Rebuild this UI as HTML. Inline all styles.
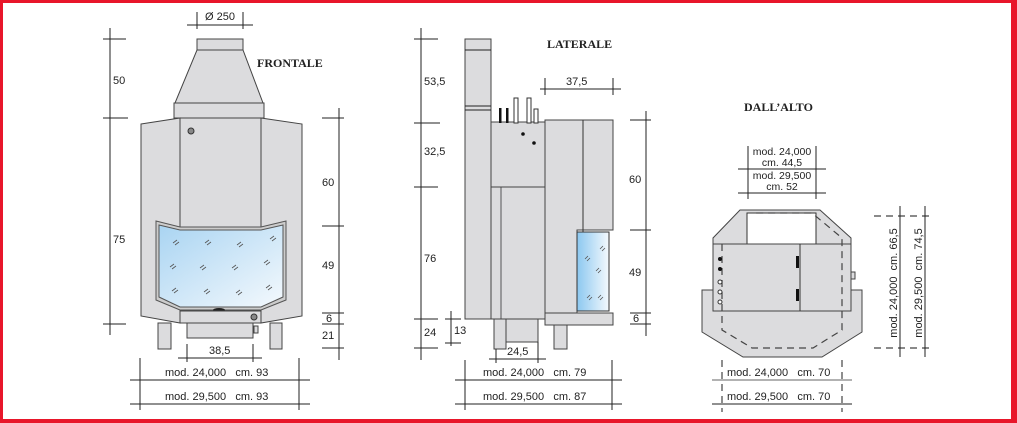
<!DOCTYPE html>
<html><head><meta charset="utf-8"><style>
html,body{margin:0;padding:0;background:#fff}
svg{display:block}
text{font-family:"Liberation Sans",sans-serif;font-size:11px;fill:#222}
.t{font-family:"Liberation Serif",serif;font-weight:bold;font-size:12px;fill:#222}
.g{fill:#dcdcde;stroke:#444;stroke-width:1}
.l{stroke:#222;stroke-width:1;fill:none}
.d{stroke:#444;stroke-width:1.2;fill:none;stroke-dasharray:7 5}
</style></head><body>
<svg width="1017" height="423" viewBox="0 0 1017 423" xmlns="http://www.w3.org/2000/svg">
<defs>
<linearGradient id="gl" x1="0" y1="0" x2="1" y2="1"><stop offset="0" stop-color="#a9d4f2"/><stop offset="1" stop-color="#f4f9fd"/></linearGradient>
<linearGradient id="gl2" x1="0" y1="0" x2="1" y2="0"><stop offset="0" stop-color="#8cc8f0"/><stop offset="1" stop-color="#f4f9fd"/></linearGradient>
</defs>
<rect x="0" y="0" width="1017" height="423" fill="#fff"/>
<rect x="0" y="0" width="1017" height="3" fill="#e8162a"/>
<rect x="0" y="419" width="1017" height="4" fill="#e8162a"/>
<rect x="0" y="0" width="3" height="423" fill="#e8162a"/>
<rect x="1011" y="0" width="6" height="423" fill="#e8162a"/>

<!-- FRONTALE -->
<text class="t" x="257" y="67">FRONTALE</text>
<line class="l" x1="187" y1="25" x2="253" y2="25"/><line class="l" x1="197" y1="12" x2="197" y2="29"/><line class="l" x1="243" y1="12" x2="243" y2="29"/>
<text x="205" y="20">Ø 250</text>
<rect class="g" x="197" y="39" width="46" height="11"/>
<polygon class="g" points="197,50 243,50 263,103 175,103"/>
<rect class="g" x="174" y="103" width="90" height="15"/>
<polygon class="g" points="141,124 180,118 180,323 141,316"/>
<polygon class="g" points="261,118 302,124 302,316 261,323"/>
<rect class="g" x="180" y="118" width="81" height="205"/>
<polygon fill="#ccc" stroke="#555" points="156,221 180,227 261,227 286,221 286,300 261,310 180,310 156,300"/>
<polygon fill="url(#gl)" stroke="#555" points="159,225 180,230 261,230 283,225 283,297 261,307 180,307 159,297"/>
<g stroke="#555" stroke-width="0.8">
<path d="M173,243l4,-3M175,245l4,-3M205,243l4,-3M207,245l4,-3M237,245l4,-3M239,247l4,-3M270,239l4,-3M272,241l4,-3"/>
<path d="M170,267l4,-3M172,269l4,-3M200,268l4,-3M202,270l4,-3M232,268l4,-3M234,270l4,-3M264,263l4,-3M266,265l4,-3"/>
<path d="M172,291l4,-3M174,293l4,-3M204,292l4,-3M206,294l4,-3M236,293l4,-3M238,295l4,-3M266,288l4,-3M268,290l4,-3"/>
</g>
<ellipse cx="219" cy="310" rx="6" ry="2" fill="#222"/>
<rect class="g" x="180" y="311" width="81" height="12"/>
<circle cx="254" cy="317" r="3" fill="#888" stroke="#333"/>
<circle cx="191" cy="131" r="3" fill="#888" stroke="#333"/>
<rect class="g" x="187" y="323" width="66" height="15"/>
<rect class="g" x="254" y="326" width="4" height="7"/>
<rect class="g" x="158" y="323" width="13" height="26"/>
<rect class="g" x="270" y="323" width="12" height="26"/>
<line class="l" x1="110" y1="28" x2="110" y2="335"/>
<line class="l" x1="103" y1="39" x2="126" y2="39"/><line class="l" x1="103" y1="118" x2="128" y2="118"/><line class="l" x1="103" y1="324" x2="126" y2="324"/>
<text x="113" y="84">50</text><text x="113" y="243">75</text>
<line class="l" x1="339" y1="108" x2="339" y2="360"/>
<g class="l"><line x1="322" y1="118" x2="344" y2="118"/><line x1="322" y1="226" x2="344" y2="226"/><line x1="322" y1="313" x2="344" y2="313"/><line x1="322" y1="324" x2="344" y2="324"/><line x1="322" y1="348" x2="344" y2="348"/></g>
<text x="322" y="186">60</text><text x="322" y="269">49</text><text x="326" y="322">6</text><text x="322" y="339">21</text>
<line class="l" x1="178" y1="358" x2="262" y2="358"/><line class="l" x1="187" y1="344" x2="187" y2="362"/><line class="l" x1="253" y1="344" x2="253" y2="362"/>
<text x="209" y="354">38,5</text>
<line class="l" x1="140" y1="358" x2="140" y2="410"/><line class="l" x1="299" y1="358" x2="299" y2="410"/>
<line class="l" x1="130" y1="380" x2="310" y2="380"/><line class="l" x1="130" y1="404" x2="310" y2="404"/>
<text x="165" y="376">mod. 24,000&#160;&#160;&#160;cm. 93</text>
<text x="165" y="400">mod. 29,500&#160;&#160;&#160;cm. 93</text>

<!-- LATERALE -->
<text class="t" x="547" y="48">LATERALE</text>
<line class="l" x1="421" y1="28" x2="421" y2="360"/>
<g class="l"><line x1="414" y1="39" x2="438" y2="39"/><line x1="414" y1="123" x2="440" y2="123"/><line x1="414" y1="187" x2="438" y2="187"/><line x1="414" y1="319" x2="438" y2="319"/><line x1="414" y1="348" x2="438" y2="348"/>
<line x1="451" y1="311" x2="451" y2="346"/><line x1="445" y1="319" x2="461" y2="319"/><line x1="445" y1="343" x2="461" y2="343"/></g>
<text x="424" y="85">53,5</text><text x="424" y="155">32,5</text><text x="424" y="262">76</text><text x="424" y="336">24</text><text x="454" y="334">13</text>
<rect class="g" x="465" y="39" width="26" height="280"/>
<line class="l" x1="465" y1="50" x2="491" y2="50"/><line class="l" x1="465" y1="106" x2="491" y2="106"/><line class="l" x1="465" y1="110" x2="491" y2="110"/>
<rect class="g" x="491" y="187" width="55" height="132"/>
<line x1="501" y1="187" x2="501" y2="319" stroke="#555"/>
<rect class="g" x="491" y="122" width="55" height="65"/>
<rect x="499" y="108" width="2.5" height="15" fill="#111"/><rect x="506" y="108" width="2.5" height="15" fill="#111"/>
<rect x="514" y="98" width="4" height="25" fill="#fff" stroke="#333"/><rect x="527" y="98" width="4" height="25" fill="#fff" stroke="#333"/><rect x="534" y="109" width="4" height="14" fill="#fff" stroke="#333"/>
<circle cx="523" cy="134" r="1.8" fill="#111"/><circle cx="534" cy="143" r="1.8" fill="#111"/>
<polygon class="g" points="545,120 613,120 613,230 577,230 577,313 545,313"/>
<line x1="583" y1="120" x2="583" y2="311" stroke="#333"/>
<rect x="577" y="232" width="32" height="79" fill="url(#gl2)" stroke="#333"/>
<rect class="g" x="545" y="313" width="68" height="12"/>
<g stroke="#555" stroke-width="0.8"><path d="M600,249l3,-3M602,251l3,-3M585,259l3,-3M587,261l3,-3M596,271l3,-3M598,273l3,-3M587,298l3,-3M589,300l3,-3M598,298l3,-3M600,300l3,-3"/></g>
<rect class="g" x="494" y="319" width="12" height="30"/>
<rect class="g" x="506" y="319" width="32" height="23"/>
<rect class="g" x="554" y="325" width="13" height="24"/>
<line class="l" x1="540" y1="89" x2="621" y2="89"/><line class="l" x1="545" y1="78" x2="545" y2="95"/><line class="l" x1="613" y1="78" x2="613" y2="95"/>
<text x="566" y="85">37,5</text>
<line class="l" x1="646" y1="111" x2="646" y2="336"/>
<g class="l"><line x1="630" y1="120" x2="651" y2="120"/><line x1="630" y1="230" x2="651" y2="230"/><line x1="630" y1="313" x2="651" y2="313"/><line x1="630" y1="324" x2="651" y2="324"/></g>
<text x="629" y="183">60</text><text x="629" y="276">49</text><text x="633" y="322">6</text>
<line class="l" x1="489" y1="359" x2="546" y2="359"/><line class="l" x1="496" y1="349" x2="496" y2="363"/><line class="l" x1="538" y1="342" x2="538" y2="363"/>
<text x="507" y="355">24,5</text>
<line class="l" x1="465" y1="360" x2="465" y2="410"/><line class="l" x1="612" y1="360" x2="612" y2="410"/>
<line class="l" x1="455" y1="380" x2="622" y2="380"/><line class="l" x1="455" y1="404" x2="622" y2="404"/>
<text x="483" y="376">mod. 24,000&#160;&#160;&#160;cm. 79</text>
<text x="483" y="400">mod. 29,500&#160;&#160;&#160;cm. 87</text>

<!-- DALL'ALTO -->
<text class="t" x="744" y="111">DALL’ALTO</text>
<line class="l" x1="748" y1="146" x2="748" y2="199"/><line class="l" x1="816" y1="146" x2="816" y2="199"/>
<line class="l" x1="738" y1="169" x2="826" y2="169"/><line class="l" x1="738" y1="193" x2="826" y2="193"/>
<text x="782" y="155" text-anchor="middle" style="font-size:10.5px">mod. 24,000</text>
<text x="782" y="166" text-anchor="middle" style="font-size:10.5px">cm. 44,5</text>
<text x="782" y="179" text-anchor="middle" style="font-size:10.5px">mod. 29,500</text>
<text x="782" y="190" text-anchor="middle" style="font-size:10.5px">cm. 52</text>
<polygon class="g" points="702,290 862,290 862,332 822,357 743,357 702,332"/>
<polygon class="g" points="740,210 820,210 851,238 851,290 713,290 713,238"/>
<rect x="747" y="213" width="69" height="31" fill="#fff" stroke="#333"/>
<rect class="g" x="713" y="244" width="138" height="67"/>
<line x1="800" y1="244" x2="800" y2="311" stroke="#333"/>
<rect class="g" x="851" y="272" width="4" height="7"/>
<path class="d" d="M722,244 V330 L752,348 H813 L842,330 V244 L842,238 L812,213 H752"/>
<circle cx="720" cy="259" r="2" fill="#111"/><circle cx="720" cy="269" r="2" fill="#111"/>
<circle cx="720" cy="282" r="2" fill="#fff" stroke="#333"/><circle cx="720" cy="292" r="2" fill="#fff" stroke="#333"/><circle cx="720" cy="302" r="2" fill="#fff" stroke="#333"/>
<rect x="796" y="256" width="3" height="12" fill="#111"/><rect x="796" y="289" width="3" height="12" fill="#111"/>
<line class="d" x1="874" y1="216" x2="932" y2="216"/><line class="d" x1="874" y1="348" x2="932" y2="348"/>
<line class="l" x1="900" y1="206" x2="900" y2="357"/><line class="l" x1="925" y1="206" x2="925" y2="357"/>
<text transform="translate(897,283) rotate(-90)" text-anchor="middle">mod. 24,000&#160;&#160;cm. 66,5</text>
<text transform="translate(922,283) rotate(-90)" text-anchor="middle">mod. 29,500&#160;&#160;cm. 74,5</text>
<line class="d" x1="722" y1="360" x2="722" y2="412"/><line class="d" x1="842" y1="360" x2="842" y2="412"/>
<line x1="712" y1="380" x2="852" y2="380" stroke="#999" stroke-width="1.5"/>
<line class="l" x1="712" y1="404" x2="852" y2="404"/>
<text x="727" y="376">mod. 24,000&#160;&#160;&#160;cm. 70</text>
<text x="727" y="400">mod. 29,500&#160;&#160;&#160;cm. 70</text>
</svg>
</body></html>
